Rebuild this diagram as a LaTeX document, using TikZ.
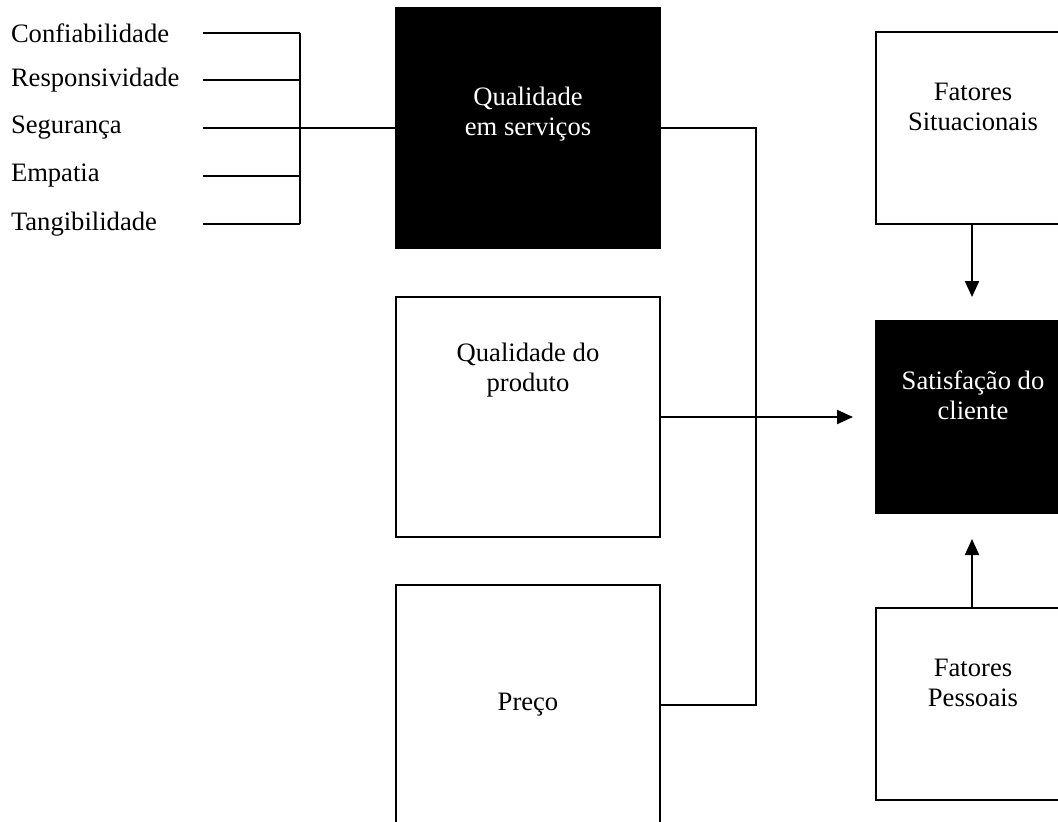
\documentclass[tikz,border=0pt]{standalone}
\usepackage{fontspec}
\setmainfont{Liberation Serif}
\usetikzlibrary{arrows.meta}
\begin{document}
\begin{tikzpicture}[x=0.5pt,y=-0.5pt,
  line width=1pt,
  txt/.style={font=\fontsize{13.3}{15}\selectfont, inner sep=0pt, align=center},
  lbl/.style={font=\fontsize{13.3}{15}\selectfont, inner sep=0pt, anchor=west},
  bigbox/.style={draw=black, rectangle, inner sep=0pt, minimum width=132pt, minimum height=120pt},
  sidebox/.style={draw=black, rectangle, inner sep=0pt, minimum width=102pt, minimum height=96pt},
  arr/.style={-{Triangle[length=8pt,width=7pt]}},
]
\useasboundingbox (0,0) rectangle (1058,821);
\clip (0,0) rectangle (1058,821);

% left boxes
\node[bigbox, fill=black] (serv) at (528,128) {};
\node[bigbox, fill=white] (prod) at (528,417) {};
\node[bigbox, fill=white] (preco) at (528,705) {};
\node[txt, text=white] (servt) at (528,114) {Qualidade\\em serviços};
\node[txt] (prodt) at (528,370) {Qualidade do\\produto};
\node[txt] (precot) at (528,705) {Preço};

% right boxes
\node[sidebox, fill=white] (sit) at (978,128) {};
\node[sidebox, fill=black] (sat) at (978,416.5) {};
\node[sidebox, fill=white] (pes) at (978,704) {};
\node[txt] (sitt) at (973,107) {Fatores\\Situacionais};
\node[txt, text=white] (satt) at (973,395) {Satisfação do\\cliente};
\node[txt] (pest) at (973,683) {Fatores\\Pessoais};

% dimension labels
\node[lbl] (l1) at (10,33) {Confiabilidade};
\node[lbl] (l2) at (10,80) {Responsividade};
\node[lbl] (l3) at (10,128) {Segurança};
\node[lbl] (l4) at (10,176) {Empatia};
\node[lbl] (l5) at (10,224) {Tangibilidade};

\coordinate (s1) at (203,33);
\coordinate (s2) at (203,80);
\coordinate (s3) at (203,128);
\coordinate (s4) at (203,176);
\coordinate (s5) at (203,224);
\coordinate (j1) at (300,33);
\coordinate (j2) at (300,80);
\coordinate (j3) at (300,128);
\coordinate (j4) at (300,176);
\coordinate (j5) at (300,224);

\draw (s1) -- (j1);
\draw (s2) -- (j2);
\draw (s4) -- (j4);
\draw (s5) -- (j5);
\draw (j1) -- (j5);
\draw (s3) -- (serv.west);

% connectors
\coordinate (bus) at (756,0);
\coordinate (tipP) at (853,417);
\coordinate (sitb) at (972,224);
\coordinate (tipS) at (972,297);
\coordinate (pestop) at (972,608);
\coordinate (tipQ) at (972,539);
\draw (serv.east) -- (bus |- serv.east) -- (bus |- preco.east) -- (preco.east);
\draw[arr] (prod.east) -- (tipP);
\draw[arr] (sitb) -- (tipS);
\draw[arr] (pestop) -- (tipQ);
\end{tikzpicture}
\end{document}
